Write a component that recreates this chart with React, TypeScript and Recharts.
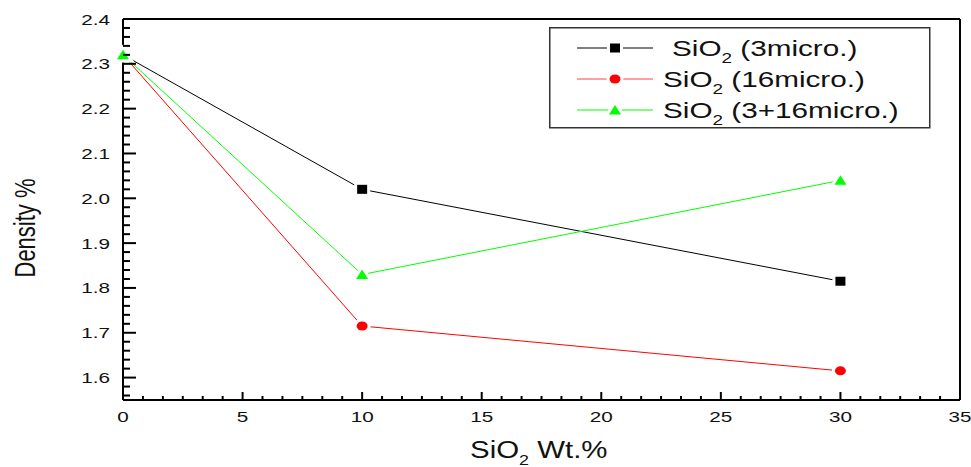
import React from "react";
import {
  LineChart, Line, XAxis, YAxis, ReferenceLine,
} from "recharts";

// SiO2 wt.% vs density
const wtPct = [0, 10, 30];
const density3 = [2.32, 2.02, 1.815];
const density16 = [2.32, 1.715, 1.615];
const density3and16 = [2.32, 1.83, 2.04];

const xMajorTicks = [0, 5, 10, 15, 20, 25, 30, 35];
const yMajorTicks = [1.6, 1.7, 1.8, 1.9, 2.0, 2.1, 2.2, 2.3, 2.4];

const data = wtPct.map((x, i) => ({
  x,
  s3: density3[i],
  s16: density16[i],
  s316: density3and16[i],
}));

// minor ticks: 5 sub-divisions on x (Origin style), 0.02 on y
const xTicks: number[] = [];
for (let i = 0; i <= 42; i++) xTicks.push(Math.round((i * 5) / 6 * 1000) / 1000);
const yTicks: number[] = [];
for (let i = 0; i <= 42; i++) yTicks.push(Math.round((1.56 + i * 0.02) * 100) / 100);

const FONT = "'Liberation Sans', Arial, sans-serif";
const STRETCH = 1.38;

const isMajorX = (v: number) => xMajorTicks.some((m) => Math.abs(m - v) < 1e-6);
const isMajorY = (v: number) => yMajorTicks.some((m) => Math.abs(m - v) < 1e-6);

// eslint-disable-next-line @typescript-eslint/no-explicit-any
function XTick({ x, y, payload }: any) {
  const major = isMajorX(payload.value);
  return (
    <g>
      <line x1={x} y1={y} x2={x} y2={y - (major ? 8 : 4)} stroke="#000" strokeWidth={2} />
      {major && (
        <text
          transform={`translate(${x},${y + 22}) scale(${STRETCH},1)`}
          textAnchor="middle"
          fontFamily={FONT}
          fontSize={15}
          fill="#111"
        >
          {payload.value}
        </text>
      )}
    </g>
  );
}

// eslint-disable-next-line @typescript-eslint/no-explicit-any
function YTick({ x, y, payload }: any) {
  const major = isMajorY(payload.value);
  return (
    <g>
      <line x1={x} y1={y} x2={x + (major ? 13 : 7)} y2={y} stroke="#000" strokeWidth={2} />
      {major && (
        <text
          transform={`translate(${x - 13},${y + 5.5}) scale(${STRETCH},1)`}
          textAnchor="end"
          fontFamily={FONT}
          fontSize={15}
          fill="#111"
        >
          {payload.value.toFixed(1)}
        </text>
      )}
    </g>
  );
}

// eslint-disable-next-line @typescript-eslint/no-explicit-any
const squareDot = (p: any) => (
  <rect key={`sq${p.index}`} x={p.cx - 5} y={p.cy - 4.5} width={10} height={9}
    fill="#000" stroke="#fff" strokeWidth={6} paintOrder="stroke" />
);
// eslint-disable-next-line @typescript-eslint/no-explicit-any
const circleDot = (p: any) => (
  <ellipse key={`ci${p.index}`} cx={p.cx} cy={p.cy} rx={5.5} ry={4.5}
    fill="#ff0000" stroke="#fff" strokeWidth={6} paintOrder="stroke" />
);
// eslint-disable-next-line @typescript-eslint/no-explicit-any
const triDot = (p: any) => (
  <polygon key={`tr${p.index}`}
    points={`${p.cx - 6},${p.cy + 4.5} ${p.cx + 6},${p.cy + 4.5} ${p.cx},${p.cy - 5}`}
    fill="#00ff00" stroke="#fff" strokeWidth={6} paintOrder="stroke" />
);

const legendRows = [
  { label: "(3micro.)", color: "#000", mark: "square", tx: 123 },
  { label: "(16micro.)", color: "#ff4040", mark: "circle", tx: 114 },
  { label: "(3+16micro.)", color: "#00ff00", mark: "triangle", tx: 114 },
];

function LegendBox() {
  return (
    <g transform="translate(549,27)">
      <rect x={0.75} y={0.75} width={380} height={100} fill="#fff" stroke="#333" strokeWidth={1.5} />
      {legendRows.map((r, i) => {
        const cy = 21 + i * 31;
        return (
          <g key={r.label}>
            <line x1={28} y1={cy} x2={104} y2={cy} stroke={r.color} strokeWidth={1} />
            {r.mark === "square" && squareDot({ cx: 66, cy, index: 0 })}
            {r.mark === "circle" && circleDot({ cx: 66, cy, index: 0 })}
            {r.mark === "triangle" && triDot({ cx: 66, cy, index: 0 })}
            <text
              transform={`translate(${r.tx},${cy + 8}) scale(1.35,1)`}
              fontFamily={FONT}
              fontSize={22}
              fill="#111"
            >
              SiO<tspan dy={7} fontSize={14}>2</tspan>
              <tspan dy={-7}> {r.label}</tspan>
            </text>
          </g>
        );
      })}
    </g>
  );
}

export default function App() {
  return (
    <div style={{ width: 971, height: 467, background: "#fff", position: "relative" }}>
      <style>{"body{margin:0}"}</style>
      <LineChart width={971} height={467} data={data} margin={{ top: 19, right: 11, left: 0, bottom: 0 }}>
        <XAxis
          dataKey="x"
          type="number"
          domain={[0, 35]}
          ticks={xTicks}
          interval={0}
          height={67}
          tickSize={0}
          tickMargin={0}
          tickLine={false}
          axisLine={{ stroke: "#000", strokeWidth: 2 }}
          tick={<XTick />}
        />
        <YAxis
          type="number"
          domain={[1.55, 2.4]}
          ticks={yTicks}
          interval={0}
          width={123}
          tickSize={0}
          tickMargin={0}
          tickLine={false}
          axisLine={{ stroke: "#000", strokeWidth: 2 }}
          tick={<YTick />}
        />
        <ReferenceLine y={2.4} stroke="#000" strokeWidth={2} />
        <ReferenceLine x={35} stroke="#000" strokeWidth={2} />
        <Line type="linear" dataKey="s3" stroke="#000" strokeWidth={1} dot={squareDot} isAnimationActive={false} />
        <Line type="linear" dataKey="s16" stroke="#ff0000" strokeWidth={1} dot={circleDot} isAnimationActive={false} />
        <Line type="linear" dataKey="s316" stroke="#00ff00" strokeWidth={1} dot={triDot} isAnimationActive={false} />
      </LineChart>
      <svg width={971} height={467} style={{ position: "absolute", left: 0, top: 0, pointerEvents: "none" }}>
        <LegendBox />
        <text
          transform="translate(35,228) rotate(-90) scale(1,1.3)"
          textAnchor="middle"
          fontFamily={FONT}
          fontSize={22}
          fill="#111"
        >
          Density %
        </text>
        <text transform="translate(470,458) scale(1.28,1)" fontFamily={FONT} fontSize={23} fill="#111">
          SiO<tspan dy={7} fontSize={14}>2</tspan>
          <tspan dy={-7}> Wt.%</tspan>
        </text>
      </svg>
    </div>
  );
}
